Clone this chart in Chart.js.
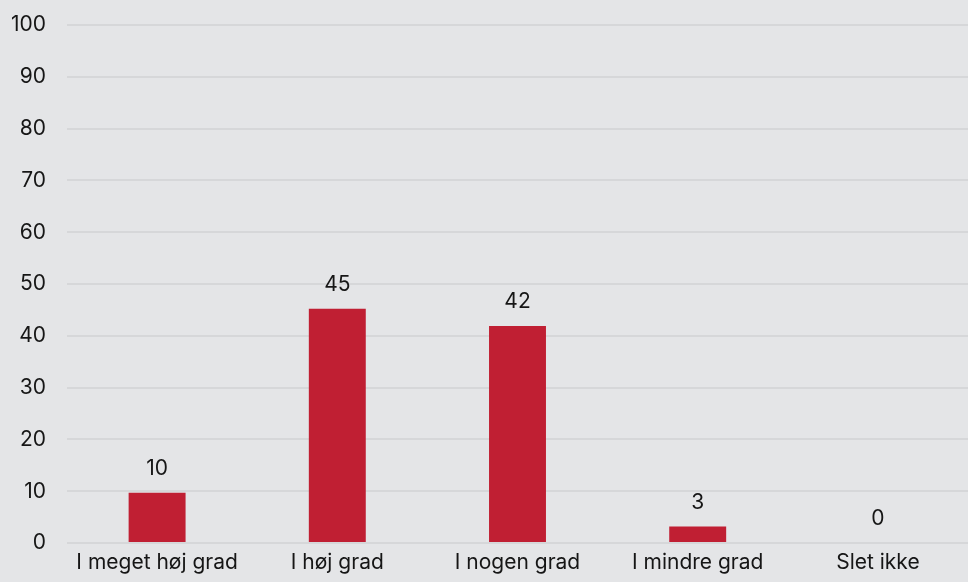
<!DOCTYPE html>
<html>
<head>
<meta charset="utf-8">
<script src="https://cdn.jsdelivr.net/npm/chart.js@4/dist/chart.umd.min.js"></script>
<style>
html,body{margin:0;padding:0;background:#e4e5e7;}
#wrap{width:968px;height:582px;position:relative;}
</style>
</head>
<body>
<div id="wrap"><canvas id="c"></canvas></div>
<script>
const categories = ["I meget høj grad","I høj grad","I nogen grad","I mindre grad","Slet ikke"];
const values = [9.7, 45.2, 41.9, 3.2, 0];
const valueLabels = ["10","45","42","3","0"];
const yTicks = [0,10,20,30,40,50,60,70,80,90,100];

const FONT = "Inter, 'Noto Sans', sans-serif";
const TEXT = "#161616";
const FS = 21;

const labelPlugin = {
  id: 'valueLabels',
  afterDatasetsDraw(chart) {
    const ctx = chart.ctx;
    const meta = chart.getDatasetMeta(0);
    ctx.save();
    ctx.font = FS + "px " + FONT;
    ctx.fillStyle = TEXT;
    ctx.textAlign = 'center';
    ctx.textBaseline = 'middle';
    meta.data.forEach((bar, i) => {
      ctx.fillText(valueLabels[i], bar.x, bar.y - 24);
    });
    ctx.restore();
  }
};

new Chart(document.getElementById('c'), {
  type: 'bar',
  data: {
    labels: categories,
    datasets: [{
      data: values,
      backgroundColor: '#c01f33',
      borderWidth: 0,
      barPercentage: 0.632,
      categoryPercentage: 0.5
    }]
  },
  options: {
    responsive: true,
    maintainAspectRatio: false,
    animation: false,
    devicePixelRatio: 1,
    layout: { padding: 0 },
    plugins: { legend: { display: false }, tooltip: { enabled: false } },
    scales: {
      x: {
        afterFit(scale) { scale.height = 39; },
        grid: { display: false, drawTicks: false },
        border: { display: false },
        ticks: { color: TEXT, font: { family: FONT, size: FS }, padding: 7, maxRotation: 0, autoSkip: false }
      },
      y: {
        min: 0, max: 100,
        afterFit(scale) { scale.width = 67; scale.paddingTop = 25; scale.paddingBottom = 0; },
        afterBuildTicks(scale) { scale.ticks = yTicks.map(v => ({ value: v })); },
        grid: { color: '#d6d7d9', lineWidth: 2, drawTicks: false },
        border: { display: false },
        ticks: { color: TEXT, font: { family: FONT, size: FS }, padding: 21 }
      }
    }
  },
  plugins: [labelPlugin]
});
</script>
</body>
</html>
